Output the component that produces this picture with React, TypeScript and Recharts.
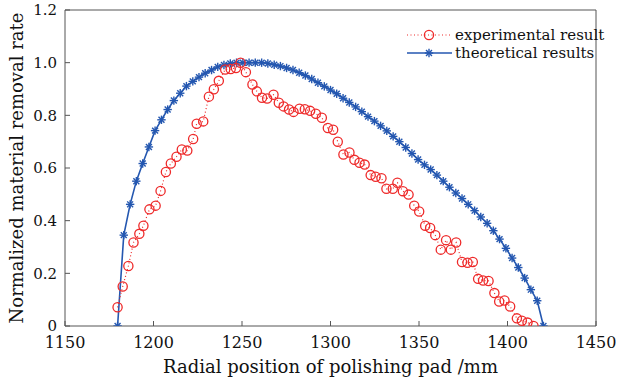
import React from 'react';
import { LineChart, Line, XAxis, YAxis, ReferenceLine } from 'recharts';

const theoryX = [
  1179.7, 1183.2, 1186.8, 1190.3, 1193.9, 1197.4, 1200.9, 1204.5, 1208.0, 1211.5,
  1215.1, 1218.6, 1222.2, 1225.7, 1229.2, 1232.8, 1236.3, 1239.8, 1243.4, 1246.9,
  1250.5, 1254.0, 1257.5, 1261.1, 1264.6, 1268.2, 1271.7, 1275.2, 1278.8, 1282.3,
  1285.8, 1289.4, 1292.9, 1296.5, 1300.0, 1303.5, 1307.1, 1310.6, 1314.2, 1317.7,
  1321.2, 1324.8, 1328.3, 1331.8, 1335.4, 1338.9, 1342.5, 1346.0, 1349.5, 1353.1,
  1356.6, 1360.1, 1363.7, 1367.2, 1370.8, 1374.3, 1377.8, 1381.4, 1384.9, 1388.5,
  1392.0, 1395.5, 1399.1, 1402.6, 1406.1, 1409.7, 1413.2, 1416.8, 1420.3,
];
const theoryY = [
  0, 0.345, 0.462, 0.55, 0.617, 0.68, 0.742, 0.783, 0.822, 0.856,
  0.884, 0.911, 0.929, 0.945, 0.96, 0.972, 0.984, 0.991, 0.997, 1.0,
  1.0, 1.0, 1.0, 1.0, 0.997, 0.992, 0.987, 0.98, 0.972, 0.962,
  0.951, 0.938, 0.924, 0.91, 0.896, 0.882, 0.865, 0.849, 0.832, 0.814,
  0.795, 0.778, 0.76, 0.741, 0.72, 0.7, 0.678, 0.655, 0.632, 0.612,
  0.594, 0.573, 0.55, 0.527, 0.505, 0.484, 0.462, 0.438, 0.414, 0.39,
  0.362, 0.33, 0.295, 0.258, 0.222, 0.182, 0.138, 0.096, 0,
];

const expX = [
  1179.7, 1182.6, 1185.8, 1188.7, 1192.0, 1194.3, 1197.7, 1201.2, 1204.0, 1207.0,
  1209.8, 1213.0, 1216.0, 1219.1, 1222.4, 1224.4, 1228.1, 1231.3, 1234.1, 1236.9,
  1240.5, 1243.6, 1246.6, 1249.2, 1252.2, 1255.9, 1258.4, 1261.3, 1264.2, 1267.8,
  1270.8, 1273.5, 1276.6, 1279.1, 1282.5, 1285.5, 1288.5, 1291.7, 1295.1, 1298.5,
  1301.5, 1304.1, 1307.3, 1310.7, 1313.5, 1316.4, 1319.3, 1322.7, 1325.5, 1328.8,
  1331.6, 1335.2, 1337.8, 1340.9, 1344.1, 1347.3, 1350.1, 1353.5, 1356.3, 1359.2,
  1362.3, 1365.3, 1368.0, 1371.0, 1374.3, 1377.4, 1380.4, 1383.4, 1386.2, 1389.3,
  1392.6, 1395.3, 1398.3, 1401.5, 1405.3, 1408.1, 1411.3, 1414.7,
];
const expY = [
  0.071, 0.15, 0.228, 0.317, 0.35, 0.381, 0.443, 0.457, 0.513, 0.585,
  0.617, 0.643, 0.67, 0.666, 0.71, 0.768, 0.777, 0.871, 0.899, 0.931,
  0.974, 0.976, 0.98, 1.0, 0.964, 0.917, 0.891, 0.867, 0.864, 0.878,
  0.848, 0.834, 0.822, 0.813, 0.825, 0.823, 0.817, 0.806, 0.791, 0.752,
  0.745, 0.7, 0.651, 0.659, 0.631, 0.62, 0.613, 0.573, 0.567, 0.561,
  0.521, 0.521, 0.544, 0.512, 0.499, 0.457, 0.435, 0.381, 0.372, 0.345,
  0.29, 0.326, 0.29, 0.317, 0.243, 0.24, 0.243, 0.179, 0.173, 0.171,
  0.125, 0.093, 0.097, 0.074, 0.029, 0.02, 0.013, 0,
];

const xTicks = [1150, 1200, 1250, 1300, 1350, 1400, 1450];
const yTicks = [0, 0.2, 0.4, 0.6, 0.8, 1.0, 1.2];

const xTitle = 'Radial position of polishing pad /mm';
const yTitle = 'Normalized material removal rate';
const expName = 'experimental result';
const theoryName = 'theoretical results';

const theoryData = theoryX.map((x, i) => ({ x, y: theoryY[i] }));
const expData = expX.map((x, i) => ({ x, y: expY[i] }));

const FONT = '"DejaVu Serif", serif';
const BLUE = '#2457b0';
const RED = '#ee2a2a';
const AXIS = '#555555';

const StarShape = (props: any) => {
  const { cx, cy } = props;
  if (cx == null || cy == null) return <g />;
  const r = 4.2;
  const d = r * 0.7071;
  return (
    <g stroke={BLUE} strokeWidth={1.4}>
      <line x1={cx - r} y1={cy} x2={cx + r} y2={cy} />
      <line x1={cx} y1={cy - r} x2={cx} y2={cy + r} />
      <line x1={cx - d} y1={cy - d} x2={cx + d} y2={cy + d} />
      <line x1={cx - d} y1={cy + d} x2={cx + d} y2={cy - d} />
    </g>
  );
};

const CircleShape = (props: any) => {
  const { cx, cy } = props;
  if (cx == null || cy == null) return <g />;
  return <circle cx={cx} cy={cy} r={4.6} fill="none" stroke={RED} strokeWidth={1.3} />;
};

const xTickStyle = { fontFamily: FONT, fontSize: 16, fill: '#111' };
const yTickStyle = { fontFamily: FONT, fontSize: 15, fill: '#111' };

export default function App() {
  return (
    <div style={{ position: 'absolute', left: 0, top: 0, width: 622, height: 377, background: '#fff' }}>
      <LineChart
        width={622}
        height={377}
        margin={{ top: 10, right: 26, bottom: 0, left: 0 }}
      >
        <XAxis
          type="number"
          dataKey="x"
          domain={[1150, 1450]}
          ticks={xTicks}
          allowDataOverflow
          height={51}
          stroke={AXIS}
          tickSize={-5}
          tickMargin={16}
          tick={xTickStyle}
          label={{
            value: xTitle,
            position: 'insideBottom',
            offset: 4,
            style: { fontFamily: FONT, fontSize: 18, fill: '#111' },
          }}
        />
        <YAxis
          type="number"
          dataKey="y"
          domain={[0, 1.2]}
          ticks={yTicks}
          allowDataOverflow
          width={65}
          stroke={AXIS}
          tickSize={-5}
          tickMargin={13}
          tick={yTickStyle}
          tickFormatter={(v: number) => (v === 0 ? '0' : v.toFixed(1))}
          label={{
            value: yTitle,
            angle: -90,
            position: 'insideLeft',
            offset: 17,
            style: { fontFamily: FONT, fontSize: 18, fill: '#111', textAnchor: 'middle' },
          }}
        />
        <ReferenceLine y={1.2} stroke={AXIS} strokeWidth={1} />
        <ReferenceLine x={1450} stroke={AXIS} strokeWidth={1} />
        <Line
          data={theoryData}
          dataKey="y"
          type="linear"
          stroke={BLUE}
          strokeWidth={1.6}
          dot={<StarShape />}
          activeDot={false}
          isAnimationActive={false}
          name={theoryName}
        />
        <Line
          data={expData}
          dataKey="y"
          type="linear"
          stroke={RED}
          strokeWidth={1.2}
          strokeDasharray="1 2.5"
          dot={<CircleShape />}
          activeDot={false}
          isAnimationActive={false}
          name={expName}
        />
      </LineChart>
      <div style={{ position: 'absolute', left: 405, top: 26, fontFamily: FONT, fontSize: 15, color: '#111', lineHeight: '18px' }}>
        <div style={{ display: 'flex', alignItems: 'center', height: 18 }}>
          <svg width={50} height={18}>
            <line x1={2} y1={9} x2={47} y2={9} stroke={RED} strokeWidth={1.2} strokeDasharray="1 2.5" />
            <circle cx={24} cy={9} r={4.6} fill="none" stroke={RED} strokeWidth={1.3} />
          </svg>
          <span>{expName}</span>
        </div>
        <div style={{ display: 'flex', alignItems: 'center', height: 18 }}>
          <svg width={50} height={18}>
            <line x1={2} y1={9} x2={47} y2={9} stroke={BLUE} strokeWidth={1.6} />
            <StarShape cx={24} cy={9} />
          </svg>
          <span>{theoryName}</span>
        </div>
      </div>
    </div>
  );
}
